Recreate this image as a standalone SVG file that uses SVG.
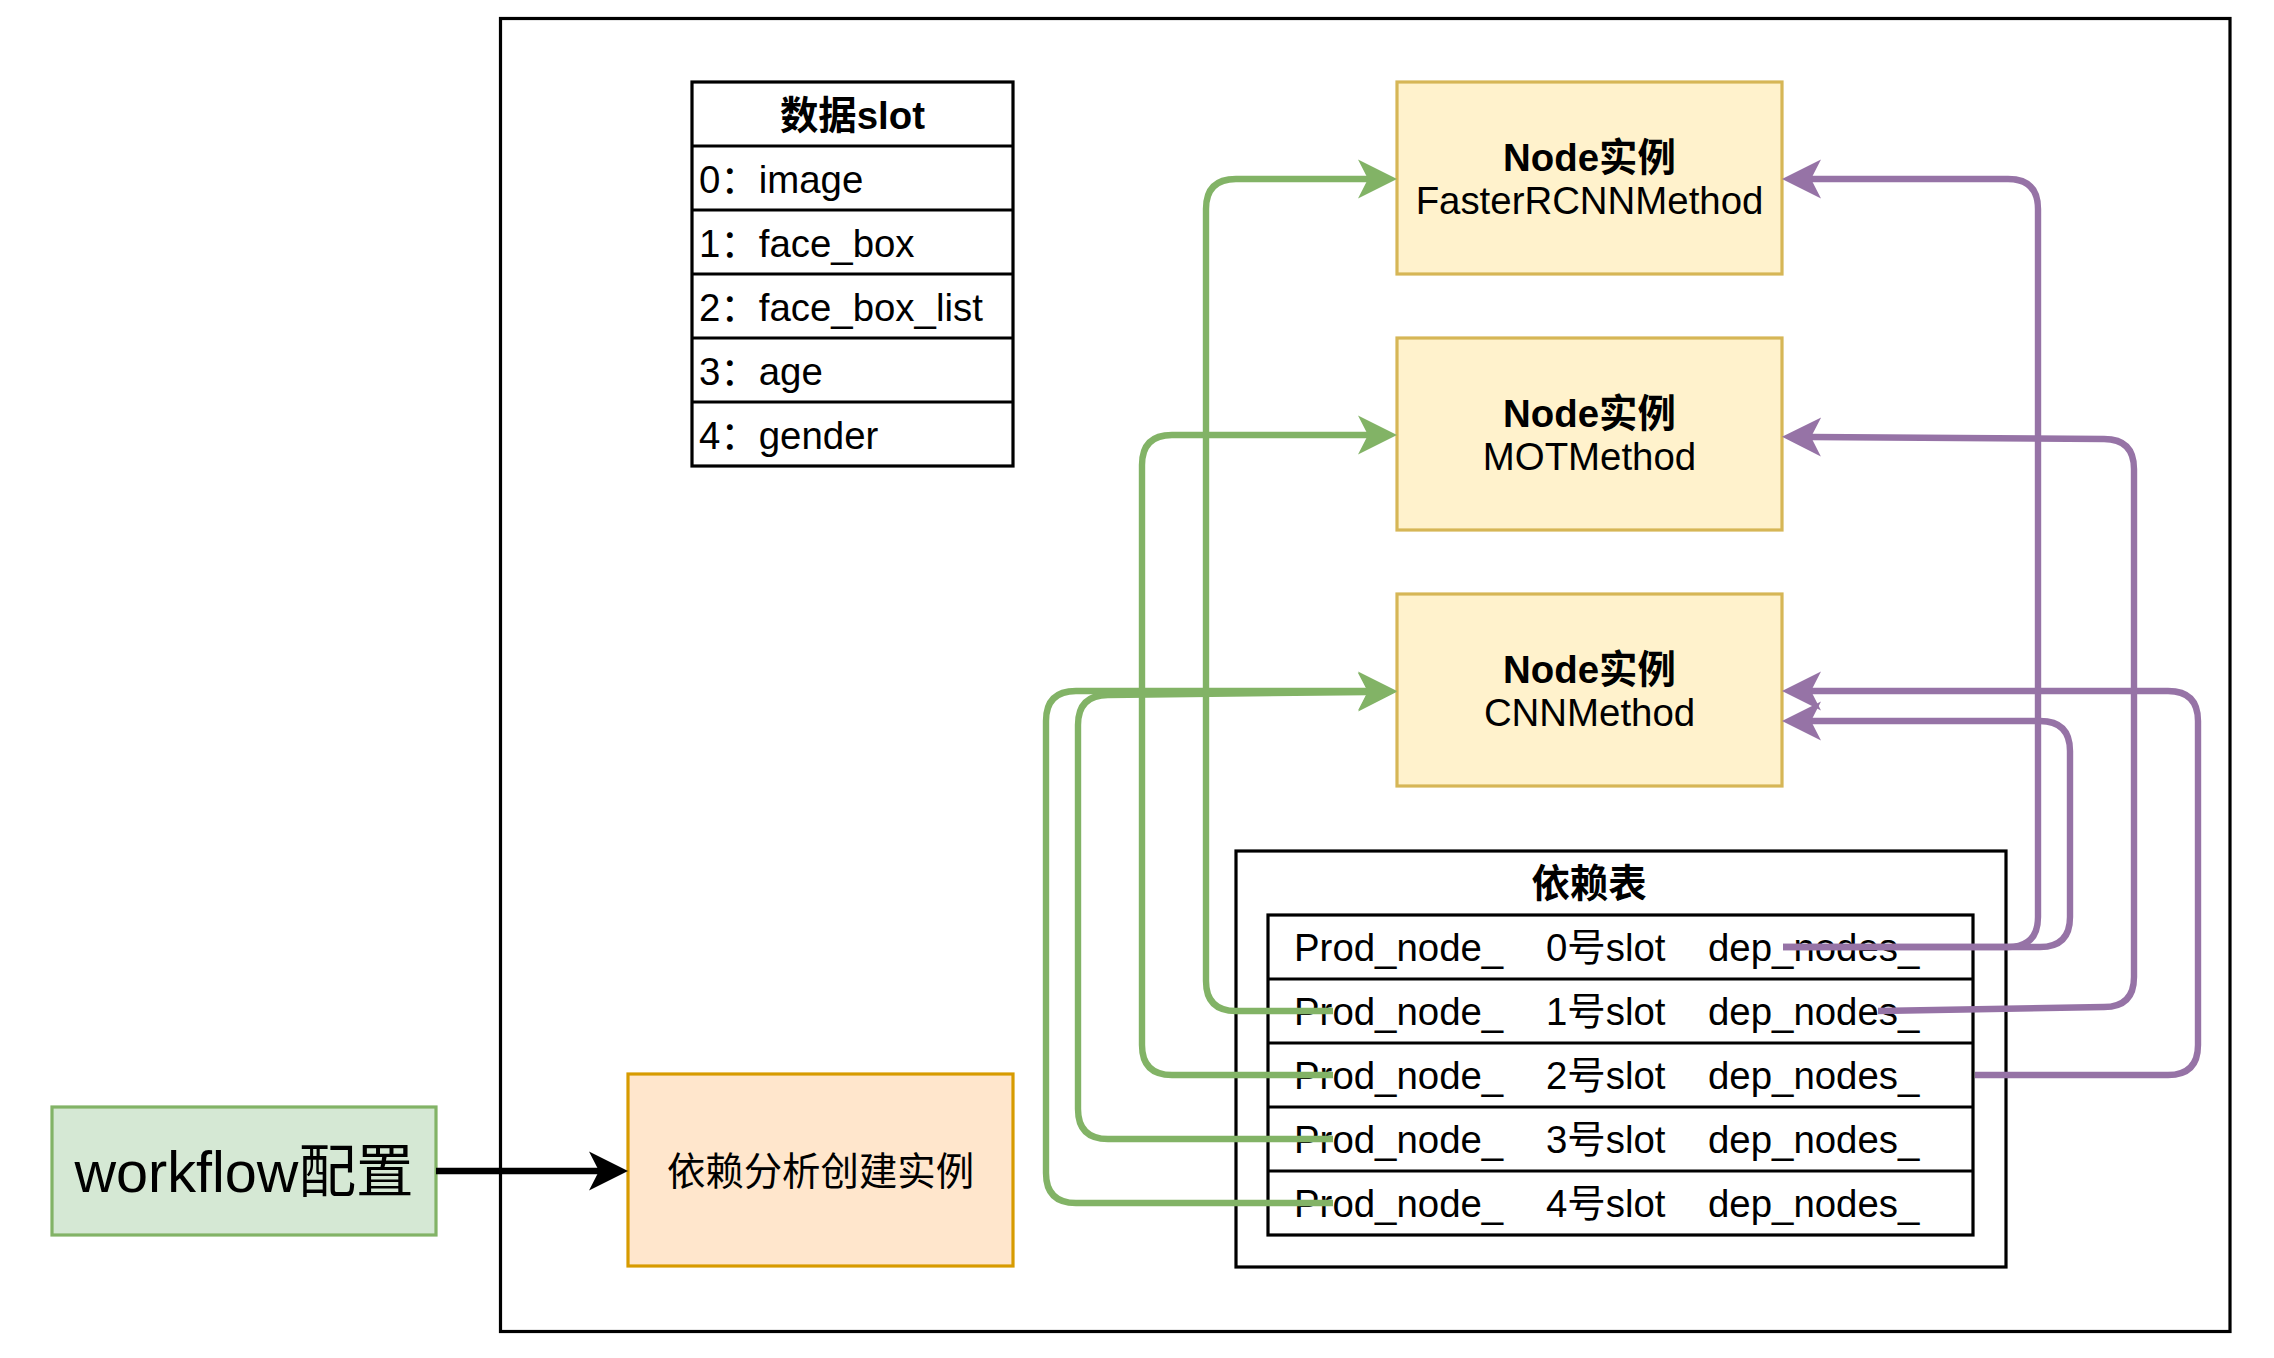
<svg xmlns="http://www.w3.org/2000/svg" width="2274" height="1358" viewBox="0 0 2274 1358">
<style>
text{font-family:'Liberation Sans','Noto Sans CJK SC',sans-serif;font-size:38.4px;fill:#000}
.b{font-weight:bold}
.c{text-anchor:middle}
.frame{fill:#fff;stroke:#000;stroke-width:3.2}
.line{fill:none;stroke:#000;stroke-width:3.2}
.node{fill:#fff2cc;stroke:#d6b656;stroke-width:3.2}
.g{fill:none;stroke:#82b366;stroke-width:6.4}
.p{fill:none;stroke:#9673a6;stroke-width:6.4}
.k{fill:none;stroke:#000;stroke-width:6.4}
</style>
<defs>
<marker id="ag" markerUnits="userSpaceOnUse" markerWidth="40" markerHeight="40" refX="10" refY="20" orient="auto" overflow="visible"><path d="M0,0.5 L39,20 L0,39.5 L10,20 Z" fill="#82b366"/></marker>
<marker id="ap" markerUnits="userSpaceOnUse" markerWidth="40" markerHeight="40" refX="10" refY="20" orient="auto" overflow="visible"><path d="M0,0.5 L39,20 L0,39.5 L10,20 Z" fill="#9673a6"/></marker>
<marker id="ak" markerUnits="userSpaceOnUse" markerWidth="40" markerHeight="40" refX="10" refY="20" orient="auto" overflow="visible"><path d="M0,0.5 L39,20 L0,39.5 L10,20 Z" fill="#000"/></marker>
</defs>
<rect width="2274" height="1358" fill="#fff"/>
<g id="container"><rect class="frame" x="500.5" y="18.5" width="1729.5" height="1313"/></g>
<g id="slot-table">
<rect class="frame" x="692" y="82" width="321" height="384"/>
<path class="line" d="M692,146H1013M692,210H1013M692,274H1013M692,338H1013M692,402H1013"/>
<text class="b c" x="852.5" y="129">数据slot</text>
<text x="699" y="193">0：image</text>
<text x="699" y="257">1：face_box</text>
<text x="699" y="321">2：face_box_list</text>
<text x="699" y="385">3：age</text>
<text x="699" y="449">4：gender</text>
</g>
<g id="node-faster"><rect class="node" x="1397" y="82" width="385" height="192"/>
<text class="b c" x="1589.5" y="171">Node实例</text><text class="c" x="1589.5" y="214">FasterRCNNMethod</text></g>
<g id="node-mot"><rect class="node" x="1397" y="338" width="385" height="192"/>
<text class="b c" x="1589.5" y="427">Node实例</text><text class="c" x="1589.5" y="470">MOTMethod</text></g>
<g id="node-cnn"><rect class="node" x="1397" y="594" width="385" height="192"/>
<text class="b c" x="1589.5" y="683">Node实例</text><text class="c" x="1589.5" y="726">CNNMethod</text></g>
<g id="dep-table">
<rect class="frame" x="1236" y="851" width="770" height="416"/>
<text class="b c" x="1589" y="897">依赖表</text>
<rect class="frame" x="1268" y="915" width="705" height="320"/>
<path class="line" d="M1268,979H1973M1268,1043H1973M1268,1107H1973M1268,1171H1973"/>
<text y="961"><tspan x="1294">Prod_node_</tspan><tspan x="1546">0号slot</tspan><tspan x="1708">dep_nodes_</tspan></text>
<text y="1025"><tspan x="1294">Prod_node_</tspan><tspan x="1546">1号slot</tspan><tspan x="1708">dep_nodes_</tspan></text>
<text y="1089"><tspan x="1294">Prod_node_</tspan><tspan x="1546">2号slot</tspan><tspan x="1708">dep_nodes_</tspan></text>
<text y="1153"><tspan x="1294">Prod_node_</tspan><tspan x="1546">3号slot</tspan><tspan x="1708">dep_nodes_</tspan></text>
<text y="1217"><tspan x="1294">Prod_node_</tspan><tspan x="1546">4号slot</tspan><tspan x="1708">dep_nodes_</tspan></text>
</g>
<g id="workflow"><rect x="52" y="1107" width="384" height="128" fill="#d5e8d4" stroke="#82b366" stroke-width="3.2"/>
<text class="c" x="244" y="1192" style="font-size:57.6px">workflow配置</text></g>
<g id="dep-analysis"><rect x="628" y="1074" width="385" height="192" fill="#ffe6cc" stroke="#d79b00" stroke-width="3.2"/>
<text class="c" x="820.5" y="1185">依赖分析创建实例</text></g>
<g id="connectors">
<path class="k" marker-end="url(#ak)" d="M436,1171H599"/>
<path class="g" marker-end="url(#ag)" d="M1333,1011H1236Q1206,1011 1206,981V209Q1206,179 1236,179H1368"/>
<path class="g" marker-end="url(#ag)" d="M1333,1075H1172Q1142,1075 1142,1045V465Q1142,435 1172,435H1368"/>
<path class="g" marker-end="url(#ag)" d="M1333,1139H1108Q1078,1139 1078,1109V725Q1078,695 1108,695L1368,692"/>
<path class="g" marker-end="url(#ag)" d="M1333,1203H1076Q1046,1203 1046,1173V721Q1046,691 1076,691H1368"/>
<path class="p" marker-end="url(#ap)" d="M1783,947H2008Q2038,947 2038,917V209Q2038,179 2008,179H1811"/>
<path class="p" marker-end="url(#ap)" d="M1783,947H2040Q2070,947 2070,917V751Q2070,721 2040,721H1811"/>
<path class="p" marker-end="url(#ap)" d="M1878,1011L2104,1007Q2134,1007 2134,977V469Q2134,439 2104,439L1811,437"/>
<path class="p" marker-end="url(#ap)" d="M1975,1075H2168Q2198,1075 2198,1045V721Q2198,691 2168,691H1811"/>
</g>
</svg>
